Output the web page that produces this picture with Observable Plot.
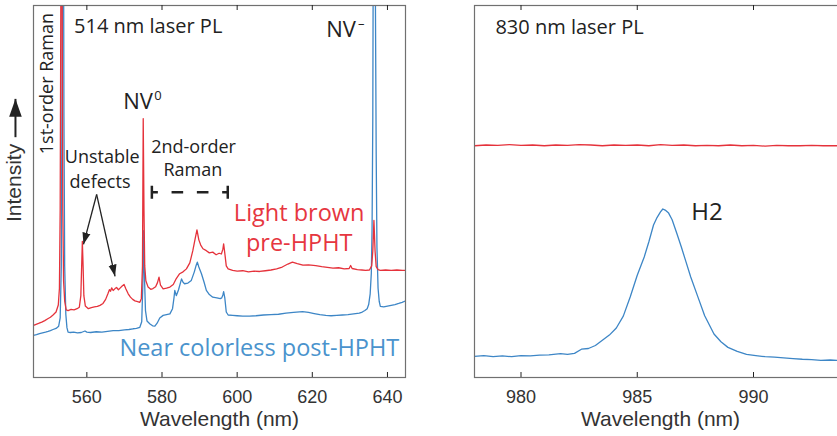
<!DOCTYPE html>
<html><head><meta charset="utf-8">
<script src="https://cdn.jsdelivr.net/npm/d3@7"></script>
<script src="https://cdn.jsdelivr.net/npm/@observablehq/plot@0.6"></script>
<style>
html,body{margin:0;padding:0;background:#fff;overflow:hidden;}
#chart{position:relative;width:837px;height:436px;overflow:hidden;}
#left,#right{position:absolute;top:0;}
#left{left:0;width:420px;} #right{left:440px;width:406px;}
#chart svg{max-width:none !important;}
</style></head><body>
<div id="chart"><div id="left"></div><div id="right"></div></div>
<script>
// ---------- data (wavelength nm, intensity a.u.) ----------
const leftDomain = [545.8, 644.8];
const rightDomain = [978, 994];
const yDomain = [0, 100];
const leftTicks = [560, 580, 600, 620, 640];
const rightTicks = [980, 985, 990];
const xLabel = ["Wavelength (nm)"];

// 514 nm PL, light brown pre-HPHT
const redLeft = [
[545.8,14.0],[546.5,14.3],[547.3,14.6],[548.0,14.9],[548.8,15.3],[549.6,15.8],[550.3,16.2],[551.0,16.8],[551.8,17.6],
[552.4,19.5],[552.7,24],[552.9,45],[553.1,110],[553.25,140],[553.4,110],[553.6,45],[553.8,26],[554.1,20.5],
[554.5,18.2],[555.0,18.0],[555.8,18.3],[556.6,18.2],[557.4,18.5],[558.0,18.9],[558.4,22],[558.7,33],[558.8,36.6],
[559.0,30],[559.2,22],[559.6,19.2],[560.4,18.5],[561.2,18.8],[562.0,19.0],[562.8,19.1],[563.5,19.4],[564.3,19.9],
[565.0,21.0],[565.6,22.5],[566.0,23.6],[566.3,23.2],[566.6,24.1],[567.0,23.4],[567.5,23.9],[567.9,24.2],[568.4,23.6],
[568.9,24.1],[569.4,24.6],[569.9,25.0],[570.4,23.8],[571.0,22.5],[571.6,21.6],[572.2,21.0],[572.8,20.6],[573.5,20.4],
[574.1,20.2],[574.5,21.2],[574.8,30],[575.0,69.6],[575.2,45],[575.4,30],[575.7,26],[576.3,24.3],[577.0,23.7],
[577.6,23.9],[578.3,24.4],[578.8,25.5],[579.2,27.0],[579.6,24.8],[580.3,23.8],[581.2,24.0],[582.1,24.3],[583.0,25.0],
[583.8,26.6],[584.7,27.9],[585.6,28.4],[586.5,29.2],[587.4,30.8],[588.2,34.1],[588.8,37.2],[589.3,39.7],[589.8,37.0],
[590.3,35.6],[590.9,34.6],[591.8,34.1],[592.6,33.5],[593.5,33.7],[594.4,33.0],[595.2,33.4],[595.8,33.2],[596.2,34.5],
[596.4,35.9],[596.7,33.5],[597.1,30.0],[597.6,29.2],[598.8,28.8],[600.0,28.6],[601.5,28.7],[603.0,28.4],[604.5,28.6],
[606.0,28.5],[607.5,28.7],[609.0,28.9],[610.5,29.2],[612.0,29.7],[613.5,30.5],[614.7,31.0],[616.0,30.6],[617.5,30.2],
[619.0,30.3],[620.9,30.1],[622.5,29.8],[624.0,29.6],[625.5,29.4],[627.0,29.5],[628.5,29.2],[629.8,29.3],[630.2,30.1],
[630.6,29.3],[632.0,29.0],[633.2,28.9],[634.2,28.8],[635.2,28.9],[635.8,30.0],[636.1,34],[636.4,42.2],[636.7,34],
[637.0,29.8],[637.5,29.0],[638.1,28.8],[639.5,28.9],[641.0,28.8],[642.5,28.9],[644.0,28.8],[644.8,28.8]
];
// 514 nm PL, near colorless post-HPHT
const blueLeft = [
[545.8,11.3],[546.6,11.5],[547.4,11.8],[548.2,12.0],[549.0,12.2],[549.7,12.4],[550.3,12.6],[551.0,12.9],[551.8,13.2],
[552.5,13.8],[552.9,16],[553.2,30],[553.4,80],[553.55,140],[553.75,140],[553.9,70],[554.1,30],[554.4,17],[554.7,13.4],
[555.0,12.2],[555.6,12.1],[556.5,12.2],[557.5,12.0],[558.5,12.1],[559.5,12.5],[560.0,12.2],[561.0,12.1],[562.5,12.3],
[564.0,12.2],[565.5,12.4],[567.0,12.6],[568.5,12.6],[570.0,12.8],[571.2,12.9],[572.3,13.1],[573.2,13.2],[574.1,13.5],
[574.6,15],[574.9,25],[575.1,39.5],[575.3,28],[575.6,18],[576.0,15.2],[576.8,14.4],[577.5,13.9],[578.1,13.8],
[578.7,14.6],[579.4,16.0],[580.3,16.7],[581.2,16.9],[582.1,17.1],[582.8,18.5],[583.2,21.5],[583.4,23.4],[583.8,22.0],
[584.4,23.6],[585.2,26.5],[585.6,25.6],[586.0,25.2],[586.9,25.4],[587.8,26.1],[588.6,28.4],[589.1,30.2],[589.4,31.0],
[589.8,29.7],[590.5,27.9],[591.2,25.6],[591.8,23.4],[592.6,22.3],[593.5,21.6],[594.6,21.4],[595.5,21.2],[595.9,21.4],
[596.2,22.2],[596.4,23.1],[596.7,21.5],[597.1,17.6],[597.6,16.8],[598.8,16.7],[600.0,16.6],[601.5,16.5],[603.3,16.5],
[605.0,16.6],[607.0,16.8],[609.0,16.9],[611.0,17.0],[613.0,17.3],[615.0,17.5],[617.4,17.7],[619.0,17.5],[620.5,17.2],
[622.0,16.9],[623.6,16.7],[625.0,16.6],[626.5,16.7],[628.0,16.8],[629.5,16.9],[631.0,17.1],[632.5,17.3],[633.3,17.6],
[634.0,18.0],[634.6,18.5],[635.0,19.6],[635.4,22.5],[635.7,28],[635.9,40],[636.1,70],[636.2,110],[636.4,140],
[636.6,140],[636.8,100],[637.0,60],[637.2,35],[637.5,24],[637.8,20.5],[638.1,19.1],[639.0,19.0],[640.0,19.2],
[641.0,19.4],[642.0,19.6],[643.0,19.9],[643.9,20.2],[644.8,20.6]
];
// 830 nm PL, light brown pre-HPHT
const redRight = [
[978.0,62.3],[978.5,62.5],[979.0,62.4],[979.5,62.6],[980.0,62.4],[980.5,62.5],[981.0,62.3],[981.5,62.5],[982.0,62.4],
[982.5,62.6],[983.0,62.5],[983.5,62.3],[984.0,62.5],[984.5,62.4],[985.0,62.5],[985.5,62.3],[986.0,62.6],[986.5,62.4],
[987.0,62.5],[987.5,62.3],[988.0,62.4],[988.5,62.3],[989.0,62.5],[989.5,62.3],[990.0,62.4],[990.5,62.2],[991.0,62.4],
[991.5,62.3],[992.0,62.3],[992.5,62.4],[993.0,62.3],[993.5,62.3],[994.0,62.3]
];
// 830 nm PL, near colorless post-HPHT (H2)
const blueRight = [
[978.0,5.7],[978.4,5.9],[978.8,5.6],[979.2,5.8],[979.6,5.6],[980.0,5.9],[980.4,5.8],[980.8,6.0],[981.2,6.1],[981.7,6.4],
[982.0,6.2],[982.3,6.5],[982.6,7.6],[982.9,7.8],[983.2,8.6],[983.5,10.0],[983.8,11.4],[984.1,13.3],[984.4,16.5],
[984.7,21.7],[985.0,27.5],[985.3,32.4],[985.5,36.5],[985.7,41.0],[985.85,43.0],[986.0,44.5],[986.1,45.3],[986.2,45.0],
[986.35,44.2],[986.5,42.4],[986.7,38.8],[986.9,35.0],[987.1,31.0],[987.3,27.0],[987.6,21.8],[987.9,16.6],[988.3,11.7],
[988.6,9.6],[988.9,8.1],[989.3,7.0],[989.7,6.2],[990.1,5.9],[990.5,5.6],[990.9,5.5],[991.3,5.3],[991.7,5.1],[992.1,4.9],
[992.5,4.8],[992.9,4.6],[993.3,4.7],[993.7,4.6],[994.0,4.6]
];

// ---------- annotations ----------
const yLabel = [{t: "Intensity", x: 540.6, y: 52.3}];
const yArrow = [{x1: 541.0, y1: 64.6, x2: 541.0, y2: 74.9}];
const defectArrows = [
  {x1: 562.6, y1: 49.2, x2: 559.1, y2: 35.8},
  {x1: 562.6, y1: 49.2, x2: 567.5, y2: 27.2}
];
const bracket = [{x1: 577.3, x2: 597.5, y: 49.8, h: 1.75}];
const notesStart = [{t: "514 nm laser PL", x: 556.6, y: 94.4}];
const notesMid18 = [
  {t: "Unstable", x: 564.1, y: 59.1}, {t: "defects", x: 563.5, y: 52.4},
  {t: "2nd-order", x: 588.4, y: 61.8}, {t: "Raman", x: 588.2, y: 55.6}
];
const ramanLabel = [{t: "1st-order Raman", x: 549.5, y: 79.0}];
const nvLabels = [{t: "NV", x: 577.6, y: 74.2}, {t: "NV", x: 631.6, y: 93.4}];
const nvSup = [{t: "0", x: 578.9, y: 75.8}, {t: "–", x: 633.0, y: 95.0}];
const redNotes = [{t: "Light brown", x: 616.5, y: 44.1}, {t: "pre-HPHT", x: 616.5, y: 36.0}];
const blueNotes = [{t: "Near colorless post-HPHT", x: 605.9, y: 7.8}];
const rightNotesStart = [{t: "830 nm laser PL", x: 978.9, y: 94.1}];
const rightNotesMid = [{t: "H2", x: 988.0, y: 44.4}];

// ---------- style ----------
const RED = "#e5323b", BLUE = "#3d86c6", RED_T = "#e63640", BLUE_T = "#4a93cd";
const INK = "#222", AXIS = "#333", FRAME = "#707070";
const ANN = "'Open Sans', 'Noto Sans', sans-serif";
const AX = "'Liberation Sans', Arial, sans-serif";
const rows = a => a.map(([wl, v]) => ({wl, v}));
const FH = 372; // frame height in px

function fillMarkers(svg) {
  d3.select(svg).selectAll("marker").each(function () {
    const m = d3.select(this);
    const c = m.attr("stroke") || INK;
    m.attr("viewBox", "-10 -5 10 10").attr("markerWidth", 9).attr("markerHeight", 9)
     .attr("fill", c).attr("stroke", "none");
    m.selectAll("path").attr("d", "M-10,-3.5L0,0L-10,3.5Z");
  });
  return svg;
}

const common = {
  height: 436, marginTop: 5, marginBottom: 59,
  style: {fontFamily: AX, fontSize: "18px", color: AXIS, background: "transparent", overflow: "visible", maxWidth: "none"}
};

const left = Plot.plot({
  ...common, width: 420, marginLeft: 33, marginRight: 15,
  x: {domain: leftDomain}, y: {domain: yDomain, axis: null},
  marks: [
    Plot.line(rows(blueLeft), {x: "wl", y: "v", stroke: BLUE, strokeWidth: 1.3, clip: true}),
    Plot.line(rows(redLeft), {x: "wl", y: "v", stroke: RED, strokeWidth: 1.3, clip: true}),
    Plot.frame({stroke: FRAME, strokeWidth: 1.2}),
    Plot.tickX(leftTicks, {x: d => d, stroke: INK, insetTop: FH - 5}),
    Plot.tickX(leftTicks, {x: d => d, stroke: INK, insetBottom: FH - 5}),
    Plot.axisX(leftTicks, {anchor: "bottom", tickSize: 0, tickPadding: 13, label: null, fill: AXIS}),
    Plot.text(xLabel, {frameAnchor: "bottom", lineAnchor: "middle", dy: 42, fontSize: 21, fontFamily: AX, fill: AXIS}),
    Plot.text(yLabel, {x: "x", y: "y", text: "t", rotate: -90, fontSize: 21, fontFamily: AX, fill: AXIS}),
    Plot.link(yArrow, {x1: "x1", y1: "y1", x2: "x2", y2: "y2", stroke: INK, strokeWidth: 2, markerEnd: "arrow"}),
    Plot.link(defectArrows, {x1: "x1", y1: "y1", x2: "x2", y2: "y2", stroke: INK, strokeWidth: 1.3, markerEnd: "arrow"}),
    Plot.link(bracket, {x1: "x1", x2: "x2", y1: "y", y2: "y", stroke: INK, strokeWidth: 2.5,
      strokeDasharray: "11.6,13.7", strokeDashoffset: 5.6}),
    Plot.link(bracket, {x1: "x1", x2: "x1", y1: d => d.y - d.h, y2: d => d.y + d.h, stroke: INK, strokeWidth: 2.5}),
    Plot.link(bracket, {x1: "x2", x2: "x2", y1: d => d.y - d.h, y2: d => d.y + d.h, stroke: INK, strokeWidth: 2.5}),
    Plot.text(notesStart, {x: "x", y: "y", text: "t", textAnchor: "start", fontSize: 20, fontFamily: ANN, fill: INK}),
    Plot.text(notesMid18, {x: "x", y: "y", text: "t", fontSize: 18, fontFamily: ANN, fill: INK}),
    Plot.text(ramanLabel, {x: "x", y: "y", text: "t", rotate: -90, fontSize: 18, fontFamily: ANN, fill: INK}),
    Plot.text(nvLabels, {x: "x", y: "y", text: "t", textAnchor: "end", fontSize: 22, fontFamily: ANN, fill: INK}),
    Plot.text(nvSup, {x: "x", y: "y", text: "t", fontSize: 13, fontFamily: ANN, fill: INK}),
    Plot.text(redNotes, {x: "x", y: "y", text: "t", fontSize: 23.5, fontFamily: ANN, fill: RED_T}),
    Plot.text(blueNotes, {x: "x", y: "y", text: "t", fontSize: 23.5, fontFamily: ANN, fill: BLUE_T})
  ]
});
document.getElementById("left").appendChild(fillMarkers(left));

const right = Plot.plot({
  ...common, width: 406, marginLeft: 34, marginRight: 0,
  x: {domain: rightDomain}, y: {domain: yDomain, axis: null},
  marks: [
    Plot.line(rows(redRight), {x: "wl", y: "v", stroke: RED, strokeWidth: 1.3, clip: true}),
    Plot.line(rows(blueRight), {x: "wl", y: "v", stroke: BLUE, strokeWidth: 1.3, clip: true}),
    Plot.frame({stroke: FRAME, strokeWidth: 1.2}),
    Plot.tickX(rightTicks, {x: d => d, stroke: INK, insetTop: FH - 5}),
    Plot.tickX(rightTicks, {x: d => d, stroke: INK, insetBottom: FH - 5}),
    Plot.axisX(rightTicks, {anchor: "bottom", tickSize: 0, tickPadding: 13, label: null, fill: AXIS}),
    Plot.text(xLabel, {frameAnchor: "bottom", lineAnchor: "middle", dy: 42, fontSize: 21, fontFamily: AX, fill: AXIS}),
    Plot.text(rightNotesStart, {x: "x", y: "y", text: "t", textAnchor: "start", fontSize: 20, fontFamily: ANN, fill: INK}),
    Plot.text(rightNotesMid, {x: "x", y: "y", text: "t", fontSize: 24, fontFamily: ANN, fill: INK})
  ]
});
document.getElementById("right").appendChild(right);
</script></body></html>
